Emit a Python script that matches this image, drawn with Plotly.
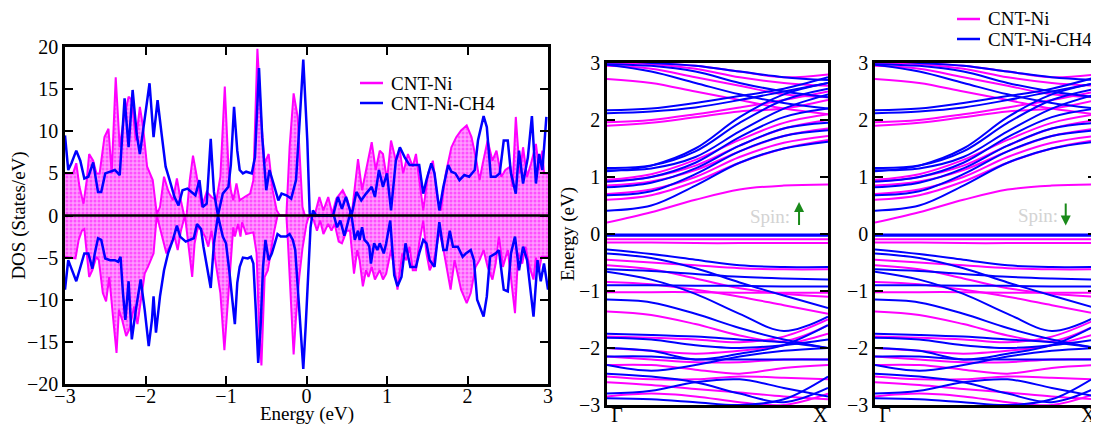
import plotly.graph_objects as go

# ---------------- DOS data (energy eV, DOS states/eV) ----------------
ni_up = [(-3.0, 5.0), (-2.9, 5.0), (-2.86, 6.2), (-2.82, 3.4), (-2.77, 1.4), (-2.73, 4.2), (-2.7, 7.3),
         (-2.65, 6.5), (-2.61, 5.0), (-2.57, 5.0), (-2.51, 9.3), (-2.46, 10.3), (-2.42, 5.0), (-2.37, 16.4),
         (-2.32, 8.1), (-2.27, 11.5), (-2.21, 14.1), (-2.17, 13.7), (-2.12, 8.9), (-2.07, 12.9), (-2.03, 10.5),
         (-1.98, 5.8), (-1.91, 4.2), (-1.86, 0.2), (-1.82, 1.0), (-1.77, 4.6), (-1.72, 3.0), (-1.66, 1.8),
         (-1.61, 4.4), (-1.57, 2.2), (-1.52, 0.0), (-1.49, 0.0), (-1.45, 4.2), (-1.41, 7.1), (-1.37, 5.0),
         (-1.30, 1.0), (-1.24, 2.8), (-1.18, 2.2), (-1.12, 1.8), (-1.07, 4.6), (-1.015, 15.3), (-0.97, 5.8),
         (-0.94, 3.0), (-0.91, 1.8), (-0.87, 3.8), (-0.83, 1.8), (-0.77, 2.2), (-0.70, 2.6), (-0.66, 4.2),
         (-0.61, 19.8), (-0.56, 10.9), (-0.52, 6.2), (-0.47, 7.3), (-0.42, 3.0), (-0.37, 0.6), (-0.33, 0.0),
         (-0.25, 0.0), (-0.21, 8.1), (-0.16, 14.5), (-0.11, 11.7), (-0.05, 1.0), (-0.02, 0.0), (0.10, 0.0),
         (0.16, 2.2), (0.21, 0.6), (0.27, 2.2), (0.32, 0.2), (0.37, 2.0), (0.45, 3.0), (0.51, 1.8), (0.56, 0.0),
         (0.64, 6.7), (0.69, 3.0), (0.74, 5.4), (0.81, 8.7), (0.86, 5.4), (0.91, 7.7), (0.95, 7.3), (1.0, 4.2),
         (1.05, 8.9), (1.11, 6.5), (1.16, 7.7), (1.2, 5.0), (1.26, 7.3), (1.32, 5.8), (1.36, 7.3), (1.45, 0.6),
         (1.51, 5.0), (1.57, 6.5), (1.63, 1.8), (1.67, 0.6), (1.73, 5.0), (1.8, 8.1), (1.86, 9.3), (1.92, 10.1),
         (1.99, 10.7), (2.05, 9.3), (2.11, 6.5), (2.15, 4.2), (2.19, 6.2), (2.25, 8.9), (2.31, 6.5), (2.36, 7.7),
         (2.42, 4.6), (2.47, 5.4), (2.53, 5.8), (2.56, 3.4), (2.6, 11.7), (2.65, 5.0), (2.69, 8.1), (2.74, 4.6),
         (2.79, 6.2), (2.85, 8.5), (2.89, 5.4), (2.93, 7.7), (2.95, 5.0), (3.0, 5.0)]

ni_dn = [(-3.0, -4.9), (-2.87, -5.1), (-2.83, -2.9), (-2.79, -1.8), (-2.76, -1.6), (-2.73, -4.5), (-2.70, -7.3),
         (-2.66, -6.5), (-2.61, -4.9), (-2.58, -5.3), (-2.53, -9.2), (-2.49, -10.2), (-2.45, -7.3), (-2.40, -12.4),
         (-2.36, -16.3), (-2.33, -11.2), (-2.29, -12.4), (-2.24, -14.3), (-2.2, -13.5), (-2.14, -10.8),
         (-2.10, -12.9), (-2.05, -9.6), (-2.01, -6.9), (-1.97, -6.1), (-1.9, -4.5), (-1.86, 0.0), (-1.82, -1.4),
         (-1.78, -3.0), (-1.74, -4.5), (-1.68, -3.3), (-1.64, -2.5), (-1.6, -4.1), (-1.56, -1.8), (-1.51, 0.0),
         (-1.48, -2.2), (-1.45, -4.5), (-1.42, -7.3), (-1.39, -3.3), (-1.35, -1.4), (-1.30, -1.8), (-1.26, -2.5),
         (-1.22, -3.7), (-1.18, -1.8), (-1.14, -4.9), (-1.07, -9.2), (-1.02, -16.0), (-0.98, -11.0), (-0.95, -6.5),
         (-0.91, -1.4), (-0.89, -2.5), (-0.85, -1.0), (-0.82, -2.5), (-0.80, -0.8), (-0.75, -2.2), (-0.66, -2.0),
         (-0.62, -4.5), (-0.59, -13.1), (-0.56, -17.8), (-0.52, -7.3), (-0.48, -6.5), (-0.44, -4.1), (-0.40, -1.8),
         (-0.36, 0.0), (-0.25, 0.0), (-0.23, -3.3), (-0.19, -11.2), (-0.16, -16.5), (-0.13, -12.0), (-0.09, -7.3),
         (-0.05, -3.9), (0.0, -1.0), (0.03, 0.0), (0.09, -0.6), (0.13, -1.8), (0.17, -0.6), (0.21, -2.2),
         (0.27, -1.0), (0.31, -1.8), (0.35, -1.0), (0.4, -3.1), (0.44, -3.3), (0.5, -1.8), (0.54, -1.8),
         (0.59, -6.9), (0.63, -4.1), (0.66, -5.3), (0.70, -8.4), (0.74, -6.5), (0.77, -7.3), (0.81, -6.1),
         (0.85, -7.6), (0.91, -6.5), (0.95, -7.6), (0.99, -6.9), (1.05, -4.1), (1.11, -7.3), (1.13, -8.8),
         (1.19, -4.5), (1.24, -5.3), (1.28, -3.7), (1.32, -6.5), (1.36, -6.5), (1.40, -3.3), (1.45, -0.6),
         (1.49, -4.5), (1.53, -6.5), (1.57, -5.7), (1.61, -4.1), (1.65, -1.8), (1.71, -4.5), (1.75, -6.9),
         (1.79, -8.8), (1.84, -5.3), (1.88, -6.9), (1.92, -8.8), (1.99, -10.4), (2.04, -9.2), (2.1, -6.1),
         (2.15, -5.3), (2.2, -4.1), (2.25, -6.1), (2.31, -7.6), (2.35, -5.7), (2.39, -2.5), (2.44, -6.1),
         (2.5, -4.1), (2.54, -7.3), (2.59, -11.6), (2.63, -4.5), (2.68, -5.7), (2.72, -3.7), (2.77, -6.1),
         (2.82, -7.6), (2.85, -5.0), (2.89, -6.5), (2.92, -4.9), (3.0, -4.9)]

ch4_up = [(-3.0, 9.5), (-2.96, 5.4), (-2.92, 6.2), (-2.86, 7.7), (-2.81, 6.5), (-2.76, 4.4), (-2.71, 4.6),
          (-2.65, 6.3), (-2.59, 2.8), (-2.55, 2.8), (-2.5, 5.0), (-2.44, 5.2), (-2.38, 5.4), (-2.32, 4.8),
          (-2.26, 13.9), (-2.21, 8.1), (-2.16, 14.9), (-2.11, 9.7), (-2.07, 7.3), (-2.01, 11.5), (-1.95, 15.7),
          (-1.9, 9.3), (-1.85, 13.7), (-1.8, 9.7), (-1.75, 5.8), (-1.70, 4.2), (-1.64, 2.2), (-1.59, 1.2),
          (-1.54, 3.0), (-1.48, 3.2), (-1.43, 2.8), (-1.38, 2.4), (-1.33, 4.2), (-1.29, 1.0), (-1.24, 1.4),
          (-1.19, 9.1), (-1.15, 2.8), (-1.10, 0.0), (-1.04, 2.6), (-0.97, 3.4), (-0.94, 6.0), (-0.90, 12.9),
          (-0.86, 7.7), (-0.83, 5.4), (-0.79, 5.0), (-0.75, 5.2), (-0.68, 5.0), (-0.64, 6.9), (-0.59, 17.5),
          (-0.55, 9.3), (-0.5, 3.0), (-0.46, 5.4), (-0.41, 3.8), (-0.35, 1.8), (-0.31, 2.6), (-0.25, 2.4),
          (-0.19, 2.0), (-0.13, 4.2), (-0.08, 12.0), (-0.04, 18.5), (0.01, 8.9), (0.04, 0.2), (0.08, 0.0),
          (0.33, 0.0), (0.39, 2.2), (0.44, 0.8), (0.49, 2.2), (0.56, 0.0), (0.62, 2.8), (0.68, 1.8), (0.74, 2.6),
          (0.81, 3.4), (0.85, 2.2), (0.9, 5.4), (0.95, 3.4), (1.0, 5.0), (1.05, 0.6), (1.11, 6.5), (1.16, 8.1),
          (1.22, 6.9), (1.28, 6.0), (1.34, 6.0), (1.4, 6.0), (1.45, 2.6), (1.49, 4.2), (1.55, 6.2), (1.59, 5.0),
          (1.65, 0.6), (1.7, 3.4), (1.76, 6.0), (1.8, 5.2), (1.85, 5.0), (1.9, 4.2), (1.96, 4.8), (2.02, 4.6),
          (2.09, 5.4), (2.13, 8.9), (2.2, 11.8), (2.24, 10.5), (2.29, 4.6), (2.35, 4.6), (2.4, 5.0), (2.45, 8.9),
          (2.5, 8.9), (2.54, 5.0), (2.6, 2.6), (2.64, 7.7), (2.69, 3.8), (2.75, 6.9), (2.8, 11.8), (2.85, 3.8),
          (2.89, 7.3), (2.93, 5.4), (2.98, 11.7)]

ch4_dn = [(-3.0, -8.8), (-2.96, -5.3), (-2.92, -6.3), (-2.86, -7.8), (-2.82, -6.5), (-2.76, -4.5), (-2.71, -4.5),
          (-2.66, -6.3), (-2.63, -4.5), (-2.59, -2.7), (-2.55, -2.9), (-2.5, -5.1), (-2.44, -5.3), (-2.38, -5.3),
          (-2.34, -5.5), (-2.31, -4.9), (-2.28, -9.2), (-2.25, -12.4), (-2.21, -7.8), (-2.17, -14.7),
          (-2.12, -11.2), (-2.06, -7.6), (-2.01, -11.2), (-1.96, -15.5), (-1.92, -12.4), (-1.9, -9.6),
          (-1.87, -13.9), (-1.82, -9.6), (-1.77, -6.5), (-1.72, -4.5), (-1.66, -2.9), (-1.61, -1.2), (-1.57, -2.5),
          (-1.5, -3.1), (-1.45, -2.9), (-1.4, -2.7), (-1.36, -1.0), (-1.31, -1.6), (-1.28, -3.7), (-1.19, -8.6),
          (-1.15, -3.3), (-1.10, 0.0), (-1.04, -2.5), (-1.0, -3.3), (-0.96, -6.5), (-0.92, -10.4), (-0.89, -12.9),
          (-0.86, -8.0), (-0.83, -6.1), (-0.79, -5.0), (-0.73, -5.1), (-0.69, -4.9), (-0.66, -5.7), (-0.63, -11.2),
          (-0.60, -17.5), (-0.57, -13.1), (-0.54, -6.1), (-0.51, -2.9), (-0.47, -5.3), (-0.43, -4.5), (-0.38, -2.9),
          (-0.36, -2.2), (-0.32, -2.5), (-0.25, -2.5), (-0.21, -2.2), (-0.17, -2.9), (-0.14, -4.1), (-0.09, -11.2),
          (-0.04, -18.2), (-0.01, -13.1), (0.03, -4.1), (0.05, -1.4), (0.08, 0.6), (0.12, 0.0), (0.34, 0.0),
          (0.38, -1.4), (0.42, -0.6), (0.47, -2.4), (0.51, -1.0), (0.55, 0.6), (0.58, -1.4), (0.6, -2.9),
          (0.64, -1.8), (0.66, -2.9), (0.69, -1.4), (0.72, -2.9), (0.76, -3.3), (0.78, -3.7), (0.8, -5.7),
          (0.84, -3.3), (0.88, -4.1), (0.91, -3.3), (0.96, -4.5), (0.99, -3.3), (1.04, -0.6), (1.09, -7.1),
          (1.13, -8.4), (1.18, -7.3), (1.23, -3.3), (1.29, -6.1), (1.36, -6.1), (1.4, -4.5), (1.45, -2.9),
          (1.49, -3.3), (1.53, -5.3), (1.59, -6.1), (1.65, -0.8), (1.7, -4.1), (1.74, -4.1), (1.78, -1.8),
          (1.82, -3.7), (1.88, -3.7), (1.94, -4.9), (1.98, -4.5), (2.04, -4.1), (2.08, -5.3), (2.12, -10.0),
          (2.2, -12.0), (2.24, -9.6), (2.28, -4.9), (2.35, -4.5), (2.39, -4.1), (2.45, -8.8), (2.5, -9.0),
          (2.54, -4.5), (2.59, -2.5), (2.64, -6.5), (2.69, -3.7), (2.74, -5.3), (2.82, -12.0), (2.87, -5.3),
          (2.91, -7.8), (2.95, -5.7), (3.0, -8.8)]

# ---------------- Band structure data (k along Gamma-X, energy eV) ----------------
k_path = [0.0, 0.2, 0.4, 0.6, 0.8, 1.0]
k_labels = ["Γ", "X"]

bands_ni = [
    [0.20, 0.38, 0.60, 0.78, 0.85, 0.87],
    [0.60, 0.68, 0.92, 1.25, 1.50, 1.65],
    [0.70, 0.78, 1.00, 1.35, 1.60, 1.72],
    [0.85, 0.92, 1.12, 1.45, 1.72, 1.85],
    [0.92, 1.00, 1.20, 1.55, 1.85, 2.00],
    [0.95, 1.05, 1.30, 1.65, 1.95, 2.10],
    [1.90, 1.95, 2.05, 2.15, 2.20, 2.35],
    [1.96, 2.00, 2.10, 2.22, 2.35, 2.50],
    [2.72, 2.65, 2.50, 2.35, 2.20, 2.10],
    [2.95, 2.90, 2.75, 2.60, 2.45, 2.40],
    [3.00, 2.98, 2.90, 2.75, 2.65, 2.60],
    [3.05, 3.00, 2.95, 2.85, 2.75, 2.80],
    [-0.09, -0.09, -0.09, -0.09, -0.09, -0.09],
    [-0.15, -0.15, -0.16, -0.16, -0.16, -0.16],
    [-0.45, -0.50, -0.55, -0.60, -0.62, -0.62],
    [-0.55, -0.62, -0.78, -0.95, -1.05, -1.10],
    [-0.84, -0.88, -0.98, -1.10, -1.25, -1.40],
    [-1.02, -1.02, -1.02, -1.03, -1.03, -1.03],
    [-1.36, -1.42, -1.58, -1.78, -1.88, -1.60],
    [-1.80, -1.82, -1.85, -1.90, -1.80, -1.50],
    [-2.00, -2.05, -2.10, -2.05, -1.95, -1.75],
    [-2.15, -2.20, -2.25, -2.25, -2.20, -2.20],
    [-2.30, -2.30, -2.38, -2.45, -2.35, -2.30],
    [-2.50, -2.55, -2.55, -2.50, -2.52, -2.55],
    [-2.60, -2.65, -2.72, -2.78, -2.85, -2.90],
    [-2.85, -2.80, -2.85, -2.95, -3.00, -2.80],
]

bands_ch4 = [
    [0.41, 0.50, 0.85, 1.25, 1.50, 1.62],
    [0.68, 0.75, 1.05, 1.45, 1.72, 1.82],
    [0.82, 0.90, 1.15, 1.55, 1.85, 1.95],
    [0.92, 1.00, 1.25, 1.70, 2.05, 2.20],
    [1.12, 1.15, 1.35, 1.80, 2.20, 2.45],
    [1.16, 1.20, 1.45, 1.95, 2.35, 2.55],
    [1.10, 1.20, 1.50, 2.05, 2.45, 2.65],
    [2.12, 2.15, 2.22, 2.35, 2.50, 2.65],
    [2.17, 2.20, 2.30, 2.42, 2.55, 2.75],
    [2.97, 2.85, 2.65, 2.45, 2.30, 2.20],
    [2.98, 2.95, 2.85, 2.65, 2.50, 2.40],
    [3.05, 3.00, 2.95, 2.85, 2.75, 2.70],
    [-0.01, -0.01, -0.01, -0.01, -0.01, -0.01],
    [-0.03, -0.03, -0.03, -0.03, -0.03, -0.03],
    [-0.27, -0.35, -0.45, -0.55, -0.58, -0.58],
    [-0.34, -0.42, -0.60, -0.85, -1.08, -1.30],
    [-0.62, -0.65, -0.70, -0.75, -0.78, -0.80],
    [-0.66, -0.80, -1.05, -1.40, -1.70, -1.45],
    [-0.90, -0.90, -0.91, -0.91, -0.92, -0.92],
    [-1.15, -1.20, -1.40, -1.65, -1.85, -2.00],
    [-1.75, -1.77, -1.80, -1.85, -1.90, -2.00],
    [-1.82, -1.85, -1.95, -2.00, -1.95, -1.85],
    [-2.00, -2.05, -2.20, -2.10, -1.95, -1.60],
    [-2.15, -2.15, -2.20, -2.20, -2.20, -2.20],
    [-2.30, -2.40, -2.30, -2.15, -2.05, -2.00],
    [-2.45, -2.50, -2.60, -2.80, -2.95, -2.70],
    [-2.80, -2.75, -2.60, -2.55, -2.70, -2.85],
    [-2.88, -2.90, -2.95, -3.00, -2.90, -2.50],
]

legend_names = ["CNT-Ni", "CNT-Ni-CH4"]

MAGENTA = "#ff00ff"
BLUE = "#0000ff"
FONT = "Liberation Serif"

# The page body has an 8px margin: lay the figure out in screen pixels, shifted by it.
OFF = 8
W, H = 1099 - OFF, 426 - OFF


def px(x):
    return (x - OFF) / W


def py(y):
    return 1 - (y - OFF) / H


fig = go.Figure()


def unzip(pairs):
    return [p[0] for p in pairs], [p[1] for p in pairs]


pat = dict(shape=".", fgcolor=MAGENTA, bgcolor="#ff9cff", size=4, solidity=0.45)

for series in [ni_up, ni_dn]:
    ex, dv = unzip(series)
    fig.add_trace(go.Scatter(x=ex, y=dv, mode="lines", fill="tozeroy", fillpattern=pat,
                             line=dict(color=MAGENTA, width=2), showlegend=False,
                             xaxis="x", yaxis="y"))
for series in [ch4_up, ch4_dn]:
    ex, dv = unzip(series)
    fig.add_trace(go.Scatter(x=ex, y=dv, mode="lines", line=dict(color=BLUE, width=2.5),
                             showlegend=False, xaxis="x", yaxis="y"))

for ax_x, ax_y in [("x2", "y2"), ("x3", "y3")]:
    for b in bands_ni:
        fig.add_trace(go.Scatter(x=k_path, y=b, mode="lines", line=dict(color=MAGENTA, width=2, shape="spline"),
                                 showlegend=False, xaxis=ax_x, yaxis=ax_y))
    for b in bands_ch4:
        fig.add_trace(go.Scatter(x=k_path, y=b, mode="lines", line=dict(color=BLUE, width=2, shape="spline"),
                                 showlegend=False, xaxis=ax_x, yaxis=ax_y))

axis_common = dict(showline=True, linecolor="black", linewidth=2.5, mirror="ticks", ticks="inside",
                   tickcolor="black", tickwidth=2, ticklen=8, showgrid=False, zeroline=False,
                   automargin=False, tickfont=dict(family=FONT, size=20, color="black"))
kaxis = dict(range=[0, 1], tickvals=[0.045, 0.965], ticktext=k_labels, showline=True, linecolor="black",
             linewidth=2.5, mirror=True, ticks="", showgrid=False, zeroline=False, automargin=False,
             ticklabelstandoff=-10, tickfont=dict(family=FONT, size=20, color="black"))

fig.update_layout(
    width=W, height=H, margin=dict(l=0, r=0, t=0, b=0, autoexpand=False),
    plot_bgcolor="white", paper_bgcolor="white", showlegend=False,
    font=dict(family=FONT, size=19, color="black"),
    xaxis=dict(domain=[px(65), px(548)], range=[-3, 3], dtick=1, anchor="y", ticklabelstandoff=-8,
               **axis_common),
    yaxis=dict(domain=[py(384), py(47)], range=[-20, 20], dtick=5, anchor="x",
               title=dict(text="DOS (States/eV)", font=dict(family=FONT, size=19), standoff=2), **axis_common),
    xaxis2=dict(domain=[px(607), px(828)], anchor="y2", **kaxis),
    yaxis2=dict(domain=[py(405), py(63)], range=[-3, 3], dtick=1, anchor="x2",
                title=dict(text="Energy (eV)", font=dict(family=FONT, size=19), standoff=0), **axis_common),
    xaxis3=dict(domain=[px(875), px(1096)], anchor="y3", **kaxis),
    yaxis3=dict(domain=[py(405), py(63)], range=[-3, 3], dtick=1, anchor="x3", **axis_common),
)

# x-axis title of the DOS panel, placed at the bottom edge like the reference
fig.add_annotation(xref="x domain", yref="paper", x=0.5, y=0, xanchor="center", yanchor="bottom",
                   text="Energy (eV)", showarrow=False, borderpad=0,
                   font=dict(family=FONT, size=19, color="black"))

# zero reference line on DOS panel
fig.add_shape(type="line", xref="x domain", yref="y", x0=0, x1=1, y0=0, y1=0,
              line=dict(color="black", width=2.5), layer="above")

# legends (line sample + label), drawn in paper space
legend_boxes = [(360, 383, 390, [83, 103]), (957, 980, 987, [19, 39])]
for x0, x1, xt, ys in legend_boxes:
    for name, color, yy in zip(legend_names, [MAGENTA, BLUE], ys):
        fig.add_shape(type="line", xref="paper", yref="paper", x0=px(x0), x1=px(x1), y0=py(yy), y1=py(yy),
                      line=dict(color=color, width=2.5))
        fig.add_annotation(xref="paper", yref="paper", x=px(xt), y=py(yy), text=name, showarrow=False,
                           xanchor="left", yanchor="middle", height=19, borderpad=0,
                           font=dict(family=FONT, size=19, color="black"))

# spin labels
fig.add_annotation(xref="x2", yref="y2", x=0.835, y=0.31, text="Spin:", showarrow=False,
                   font=dict(family=FONT, size=19, color="#d3d3d3"), xanchor="right")
fig.add_annotation(xref="x2", yref="y2", x=0.869, y=0.56, ax=0.869, ay=0.13, axref="x2", ayref="y2",
                   text="", showarrow=True, arrowhead=2, arrowsize=1, arrowwidth=2, arrowcolor="#1a8a1a")
fig.add_annotation(xref="x3", yref="y3", x=0.837, y=0.33, text="Spin:", showarrow=False,
                   font=dict(family=FONT, size=19, color="#d3d3d3"), xanchor="right")
fig.add_annotation(xref="x3", yref="y3", x=0.863, y=0.15, ax=0.863, ay=0.56, axref="x3", ayref="y3",
                   text="", showarrow=True, arrowhead=2, arrowsize=1, arrowwidth=2, arrowcolor="#1a8a1a")

fig.write_html("out.html")
